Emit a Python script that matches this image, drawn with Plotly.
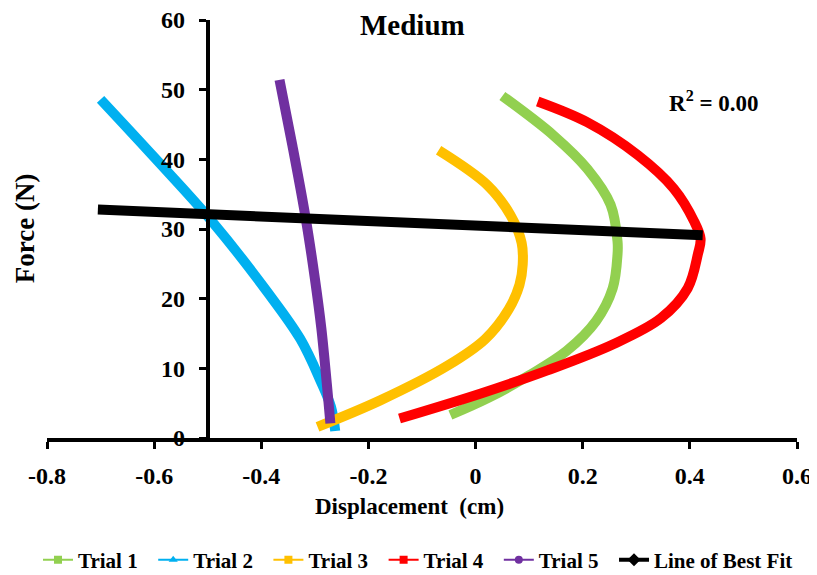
import plotly.graph_objects as go

# ---- data ----
trial1_x = [-0.047, 0.025, 0.100, 0.170, 0.225, 0.256, 0.265, 0.265, 0.252, 0.209, 0.146, 0.05]
trial1_y = [3.3, 5.8, 9.0, 12.5, 16.8, 21.5, 26.4, 28.2, 33.5, 38.6, 43.4, 49.1]

trial2_x = [-0.262, -0.270, -0.290, -0.327, -0.390, -0.49, -0.60, -0.70]
trial2_y = [1.0, 4.5, 8.3, 14.2, 21.1, 30.9, 40.3, 48.6]

trial3_x = [-0.295, -0.178, -0.052, 0.018, 0.062, 0.082, 0.088, 0.086, 0.065, 0.022, -0.069]
trial3_y = [1.6, 5.4, 10.4, 14.2, 18.5, 22.0, 24.9, 28.0, 32.0, 36.3, 41.3]

trial4_x = [-0.142, 0.01, 0.134, 0.258, 0.346, 0.396, 0.415, 0.42, 0.408, 0.37, 0.303, 0.209, 0.116]
trial4_y = [2.8, 6.4, 9.7, 13.5, 17.2, 21.5, 26.4, 28.6, 31.1, 35.8, 40.6, 45.3, 48.3]

trial5_x = [-0.271, -0.276, -0.288, -0.300, -0.317, -0.342, -0.366]
trial5_y = [2.1, 6.4, 15.8, 22.9, 31.5, 42.0, 51.4]

fit_x = [-0.705, 0.424]
fit_y = [32.8, 29.1]

names = ["Trial 1", "Trial 2", "Trial 3", "Trial 4", "Trial 5", "Line of Best Fit"]
colors = ["#92D050", "#00B0F0", "#FFC000", "#FF0000", "#7030A0", "#000000"]
symbols = ["square", "triangle-up", "square", "square", "circle", "diamond"]

x_ticks = [-0.8, -0.6, -0.4, -0.2, 0, 0.2, 0.4, 0.6]
x_ticktext = ["-0.8", "-0.6", "-0.4", "-0.2", "0", "0.2", "0.4", "0.6"]
y_ticks = [0, 10, 20, 30, 40, 50, 60]

FONT = "Liberation Serif"
PAD = "\u00a0\u00a0"

series = [(trial1_x, trial1_y), (trial2_x, trial2_y), (trial3_x, trial3_y),
          (trial4_x, trial4_y), (trial5_x, trial5_y), (fit_x, fit_y)]

fig = go.Figure()
for (xs, ys), c in zip(series, colors):
    fig.add_trace(go.Scatter(
        x=xs, y=ys, mode="lines",
        line=dict(color=c, width=10, shape="spline", smoothing=1.0),
        showlegend=False, hoverinfo="skip"))

# legend-only entries
for n, c, s in zip(names, colors, symbols):
    best = n == "Line of Best Fit"
    label = n if best else n + PAD
    fig.add_trace(go.Scatter(
        x=[None], y=[None], mode="lines+markers", name=label,
        line=dict(color=c, width=4 if best else 2),
        marker=dict(color=c, symbol=s, size=10 if best else 8)))

# the page body has an 8px margin: compensate so the plot area lands at x 47..797, y 20..438
fig.update_layout(
    width=817, height=575,
    margin=dict(l=39, r=28, t=12, b=145, autoexpand=False),
    paper_bgcolor="white", plot_bgcolor="white",
    font=dict(family=FONT, color="black"),
    showlegend=True,
    legend=dict(orientation="h", x=-0.012, xanchor="left", y=-0.292, yanchor="middle",
                font=dict(family=FONT, size=21, color="black", weight="bold"),
                itemwidth=30, tracegroupgap=0),
    xaxis=dict(range=[-0.8, 0.6], tickvals=x_ticks, ticktext=x_ticktext,
               showgrid=False, zeroline=False, showline=True, linecolor="black", linewidth=4,
               ticks="outside", ticklen=7, tickwidth=3, tickcolor="black",
               ticklabelstandoff=6, automargin=False, ticklabeloverflow="allow",
               tickfont=dict(family=FONT, size=24, color="black", weight="bold")),
    yaxis=dict(range=[0, 60], tickvals=y_ticks,
               anchor="free", position=0.3 / 1.4,
               showgrid=False, zeroline=False, showline=True, linecolor="black", linewidth=4,
               ticks="outside", ticklen=7, tickwidth=3, tickcolor="black",
               ticklabelstandoff=9, automargin=False, ticklabeloverflow="allow",
               tickfont=dict(family=FONT, size=24, color="black", weight="bold")),
    annotations=[
        dict(text="<b>Medium</b>", x=0.487, y=0.988, xref="paper", yref="paper",
             xanchor="center", yanchor="middle", showarrow=False,
             font=dict(family=FONT, size=29, color="black")),
        dict(text="<b>R<sup>2</sup> = 0.00</b>", x=0.889, y=0.806, xref="paper", yref="paper",
             xanchor="center", yanchor="middle", showarrow=False,
             font=dict(family=FONT, size=23, color="black")),
        dict(text="<b>Displacement  (cm)</b>", x=0.483, y=-0.1627, xref="paper", yref="paper",
             xanchor="center", yanchor="middle", showarrow=False,
             font=dict(family=FONT, size=23, color="black")),
        dict(text="<b>Force (N)</b>", x=-0.0293, y=0.502, xref="paper", yref="paper",
             xanchor="center", yanchor="middle", showarrow=False, textangle=-90,
             font=dict(family=FONT, size=27, color="black")),
    ],
)

fig.write_html("out.html")
